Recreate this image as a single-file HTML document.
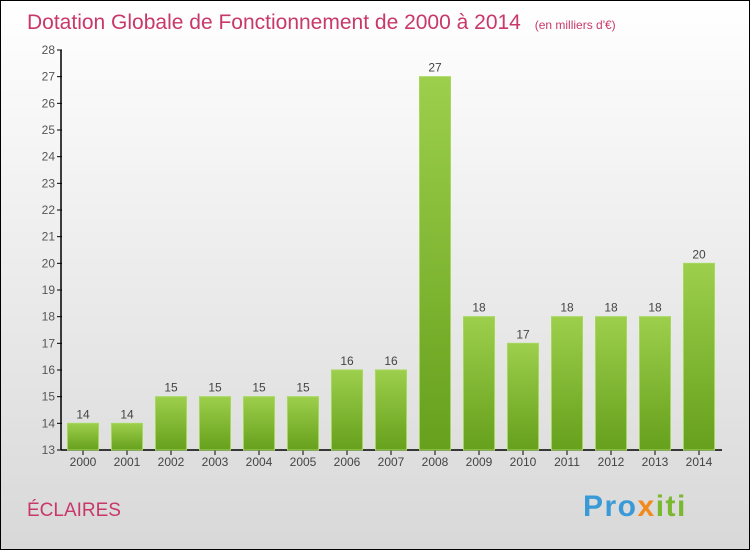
<!DOCTYPE html>
<html><head><meta charset="utf-8"><style>
body{margin:0;}
svg{display:block;font-family:"Liberation Sans",sans-serif;}
</style></head><body>
<svg id="c" width="750" height="550" xmlns="http://www.w3.org/2000/svg">
<defs>
<linearGradient id="bg" x1="0" y1="0" x2="0" y2="1"><stop offset="0" stop-color="#ffffff"/><stop offset="1" stop-color="#d8d8d8"/></linearGradient>
<linearGradient id="bar" x1="0" y1="0" x2="0" y2="1"><stop offset="0" stop-color="#9ccf4c"/><stop offset="1" stop-color="#66a01c"/></linearGradient>
</defs>
<rect x="0.5" y="0.5" width="749" height="549" fill="url(#bg)" stroke="#000"/>
<text x="27" y="29" font-size="21" fill="#c8386a">Dotation Globale de Fonctionnement de 2000 à 2014 <tspan font-size="12" dx="8">(en milliers d'€)</tspan></text>
<text x="27" y="516" font-size="19" fill="#c8386a">ÉCLAIRES</text>
<text x="583" y="516" font-size="30" font-weight="bold" fill="#3a9ad8" letter-spacing="1.5">Pro<tspan fill="#f08a1c">x</tspan><tspan fill="#7ab830">iti</tspan></text>
<g id="axes"></g><g id="bars"></g>
</svg>
<script>
const years=["2000","2001","2002","2003","2004","2005","2006","2007","2008","2009","2010","2011","2012","2013","2014"];
const values=[14,14,15,15,15,15,16,16,27,18,17,18,18,18,20];
const yTicks=[13,14,15,16,17,18,19,20,21,22,23,24,25,26,27,28];
const NS="http://www.w3.org/2000/svg";
const y=v=>450-(v-13)*400/15;
const x=i=>83+i*44;
function mk(t,a,p){const e=document.createElementNS(NS,t);for(const k in a)e.setAttribute(k,a[k]);p.appendChild(e);return e;}
const ax=document.getElementById('axes'),bg=document.getElementById('bars');
const yl=mk('line',{x1:61,y1:50,x2:61,y2:450,stroke:'#000','stroke-width':1.5},ax);


const xl=mk('line',{x1:61,y1:450,x2:722,y2:450,stroke:'#000','stroke-width':1.5},ax);


yTicks.forEach(v=>{
 mk('line',{x1:57,y1:y(v),x2:62,y2:y(v),stroke:'#000'},ax);
 const t=mk('text',{x:55,y:y(v)+4,'font-size':12,fill:'#555','text-anchor':'end'},ax);t.textContent=v;
 
 
});
years.forEach((yr,i)=>{
 const v=values[i];
 const r=mk('rect',{x:x(i)-15.5,y:y(v),width:31,height:450-y(v),fill:'url(#bar)',stroke:'#a6d85c','stroke-width':1},bg);
 
 
 const l=mk('text',{x:x(i),y:y(v)-5,'font-size':12,fill:'#444','text-anchor':'middle'},bg);l.textContent=v;
 
 
 mk('line',{x1:x(i),y1:450,x2:x(i),y2:455,stroke:'#000'},ax);
 const t=mk('text',{x:x(i),y:466,'font-size':12,fill:'#444','text-anchor':'middle'},ax);t.textContent=yr;
 
 
});
</script>
</body></html>
